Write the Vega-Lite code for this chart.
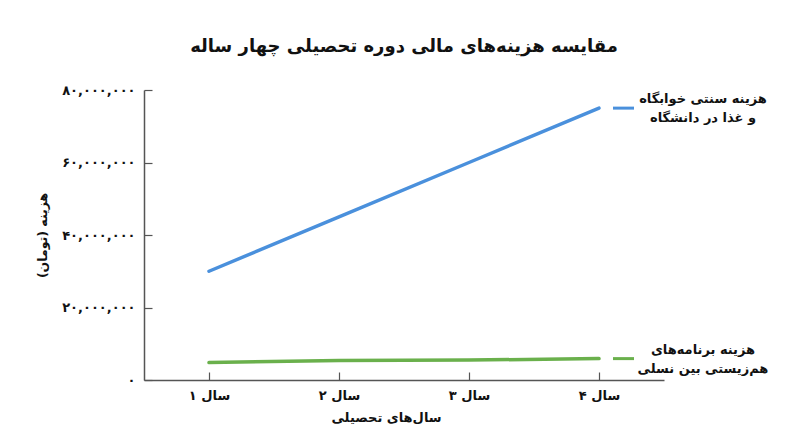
{
  "$schema": "https://vega.github.io/schema/vega-lite/v6.json",
  "autosize": "none",
  "width": 520,
  "height": 290,
  "padding": {"left": 144, "top": 90, "right": 136, "bottom": 67},
  "background": "white",
  "title": {
    "text": "مقایسه هزینه‌های مالی دوره تحصیلی چهار ساله",
    "font": "DejaVu Sans",
    "fontSize": 18,
    "fontWeight": "bold",
    "color": "#111111",
    "anchor": "middle",
    "offset": 28
  },
  "config": {
    "view": {"stroke": null},
    "font": "DejaVu Sans"
  },
  "data": {
    "values": [
      {"year": "سال ۱", "series": "dorm", "cost": 30000000},
      {"year": "سال ۲", "series": "dorm", "cost": 45000000},
      {"year": "سال ۳", "series": "dorm", "cost": 60000000},
      {"year": "سال ۴", "series": "dorm", "cost": 75000000, "label": "هزینه سنتی خوابگاه\nو غذا در دانشگاه"},
      {"year": "سال ۱", "series": "inter", "cost": 4800000},
      {"year": "سال ۲", "series": "inter", "cost": 5400000},
      {"year": "سال ۳", "series": "inter", "cost": 5500000},
      {"year": "سال ۴", "series": "inter", "cost": 5900000, "label": "هزینه برنامه‌های\nهم‌زیستی بین نسلی"}
    ]
  },
  "encoding": {
    "x": {
      "field": "year",
      "type": "ordinal",
      "sort": null,
      "scale": {"type": "point", "padding": 0.5},
      "axis": {
        "title": "سال‌های تحصیلی",
        "titleFont": "DejaVu Sans",
        "titleFontSize": 13,
        "titleFontWeight": "bold",
        "titleColor": "#111111",
        "titlePadding": 9,
        "titleX": 242,
        "labelAngle": 0,
        "labelFont": "DejaVu Sans",
        "labelFontSize": 13,
        "labelFontWeight": "bold",
        "labelColor": "#111111",
        "labelPadding": 17,
        "tickSize": -8,
        "tickWidth": 1.2,
        "tickColor": "#555555",
        "domainColor": "#555555",
        "domainWidth": 1.5,
        "grid": false
      }
    },
    "y": {
      "field": "cost",
      "type": "quantitative",
      "scale": {"domain": [0, 80000000], "nice": false},
      "axis": {
        "title": "هزینه (تومان)‏",
        "titleFont": "DejaVu Sans",
        "titleFontSize": 12.5,
        "titleFontWeight": "bold",
        "titleColor": "#111111",
        "titlePadding": 12,
        "values": [0, 20000000, 40000000, 60000000, 80000000],
        "labelExpr": "replace(replace(replace(replace(replace(format(datum.value, ','), regexp('0','g'), '۰'), regexp('2','g'), '۲'), regexp('4','g'), '۴'), regexp('6','g'), '۶'), regexp('8','g'), '۸')",
        "labelFont": "DejaVu Sans",
        "labelFontSize": 13,
        "labelFontWeight": "bold",
        "labelColor": "#111111",
        "labelPadding": 17,
        "tickSize": -8,
        "tickWidth": 1.2,
        "tickColor": "#555555",
        "domainColor": "#555555",
        "domainWidth": 1.5,
        "grid": false
      }
    },
    "color": {
      "field": "series",
      "type": "nominal",
      "scale": {"domain": ["dorm", "inter"], "range": ["#4a90dc", "#6ab04c"]},
      "legend": null
    }
  },
  "layer": [
    {
      "mark": {"type": "line", "strokeWidth": 3.5, "strokeCap": "round"}
    },
    {
      "transform": [{"filter": "datum.label != null"}],
      "mark": {"type": "rule", "strokeWidth": 3, "xOffset": 14, "x2Offset": 35},
      "encoding": {
        "x2": {"field": "year"}
      }
    },
    {
      "transform": [{"filter": "datum.label != null"}],
      "mark": {
        "type": "text",
        "dx": 104,
        "dy": -9,
        "align": "center",
        "baseline": "middle",
        "lineBreak": "\n",
        "lineHeight": 19,
        "font": "DejaVu Sans",
        "fontSize": 13,
        "fontWeight": "bold",
        "color": "#111111"
      },
      "encoding": {
        "text": {"field": "label"},
        "color": {"value": "#111111"}
      }
    }
  ]
}
